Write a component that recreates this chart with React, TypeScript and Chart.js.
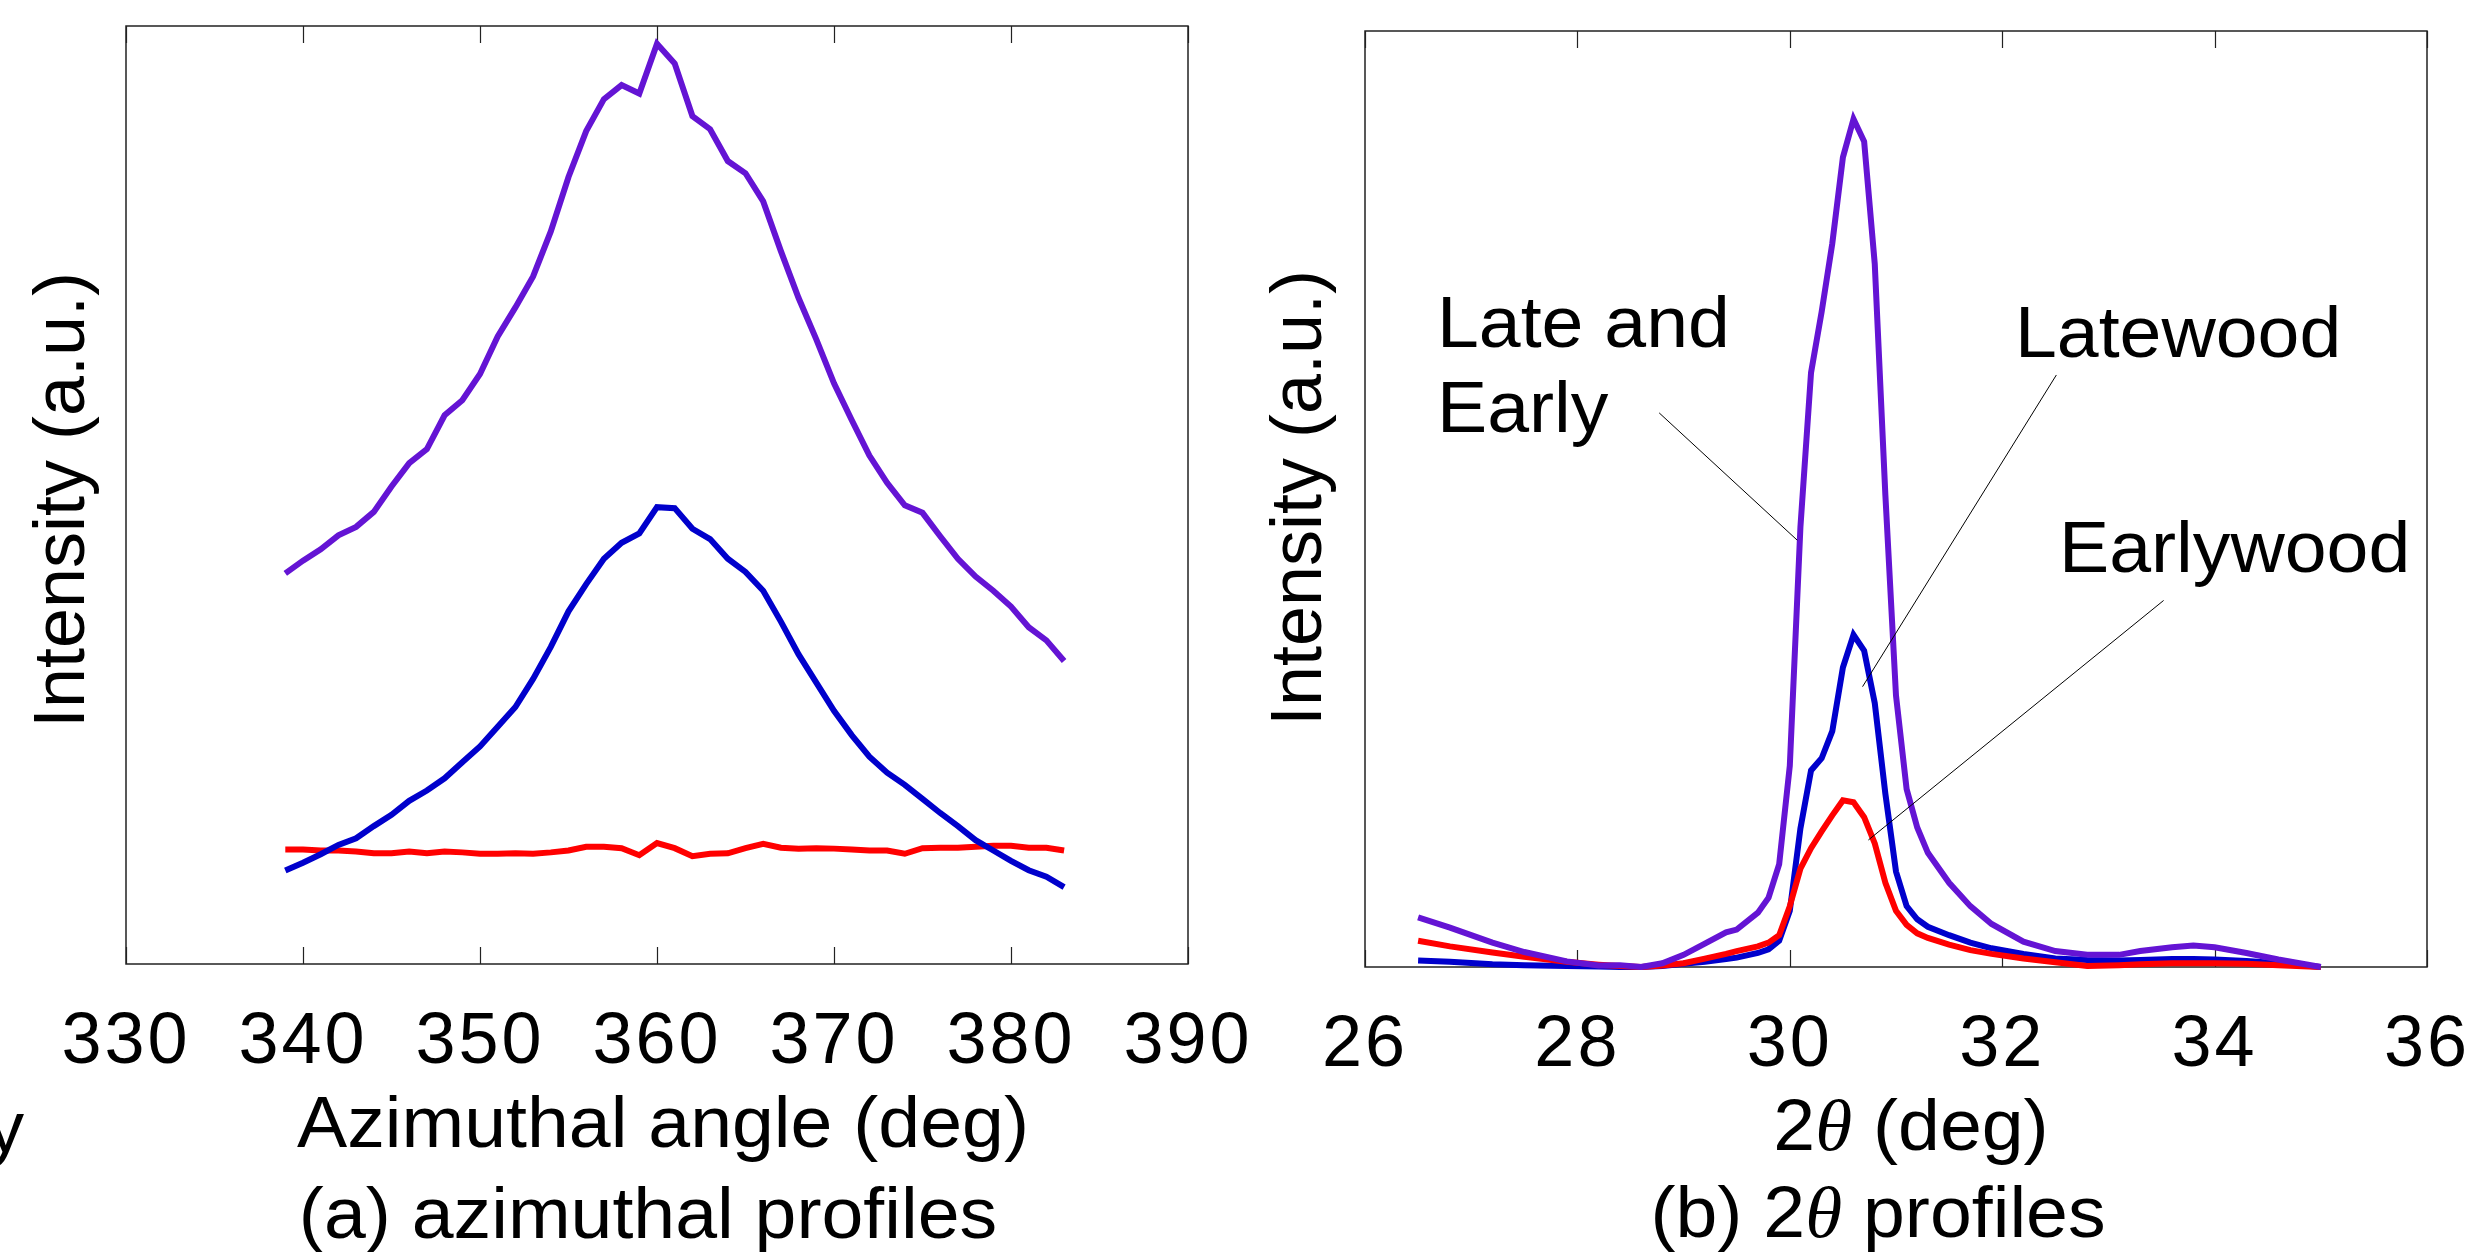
import React, { useEffect, useRef } from "react";
import { Chart, registerables } from "chart.js";

Chart.register(...registerables);

// ---------- (a) azimuthal profiles ----------
const azimuthAngles = [
  339, 340, 341, 342, 343, 344, 345, 346, 347, 348, 349, 350, 351, 352, 353,
  354, 355, 356, 357, 358, 359, 360, 361, 362, 363, 364, 365, 366, 367, 368,
  369, 370, 371, 372, 373, 374, 375, 376, 377, 378, 379, 380, 381, 382, 383,
];
const azLateEarly = [
  41.65, 43.0, 44.2, 45.7, 46.6, 48.2, 50.9, 53.4, 54.9, 58.5, 60.1, 62.9, 66.9, 70.0, 73.3,
  78.1, 83.9, 88.8, 92.2, 93.7, 92.8, 98.1, 96.0, 90.4, 89.0, 85.6, 84.3, 81.3, 76.0, 71.0,
  66.6, 61.9, 58.0, 54.2, 51.3, 48.9, 48.1, 45.6, 43.2, 41.3, 39.8, 38.1, 35.9, 34.5, 32.3,
];
const azLatewood = [
  9.97, 10.8, 11.7, 12.7, 13.4, 14.7, 15.9, 17.4, 18.5, 19.8, 21.5, 23.2, 25.3, 27.4, 30.4,
  33.8, 37.6, 40.5, 43.2, 44.9, 45.9, 48.7, 48.6, 46.4, 45.3, 43.2, 41.8, 39.8, 36.5, 33.0,
  30.0, 27.0, 24.4, 22.1, 20.4, 19.1, 17.6, 16.1, 14.7, 13.2, 12.1, 11.0, 10.0, 9.3, 8.2,
];
const azEarlywood = [
  12.2, 12.2, 12.1, 12.1, 12.0, 11.8, 11.8, 12.0, 11.8, 12.0, 11.9, 11.75, 11.75, 11.8, 11.75,
  11.9, 12.1, 12.5, 12.5, 12.35, 11.6, 12.9, 12.35, 11.5, 11.75, 11.8, 12.35, 12.8, 12.4, 12.3,
  12.35, 12.3, 12.2, 12.1, 12.1, 11.75, 12.35, 12.4, 12.4, 12.5, 12.6, 12.6, 12.4, 12.4, 12.1,
];
const azTicks = [330, 340, 350, 360, 370, 380, 390];

// ---------- (b) 2-theta profiles ----------
const twoTheta = [
  26.5, 26.8, 27.2, 27.5, 27.9, 28.2, 28.4, 28.6, 28.8, 29.0,
  29.2, 29.4, 29.5, 29.7, 29.8, 29.9, 30.0, 30.1, 30.2, 30.3,
  30.4, 30.5, 30.6, 30.7, 30.8, 30.9, 31.0, 31.1, 31.2, 31.3,
  31.5, 31.7, 31.9, 32.2, 32.5, 32.8, 33.1, 33.3, 33.6, 33.8,
  34.0, 34.3, 34.6, 35.0,
];
const ttLateEarly = [
  5.3, 4.2, 2.6, 1.6, 0.6, 0.15, 0.2, 0, 0.4, 1.3,
  2.5, 3.7, 4.0, 5.8, 7.4, 11.0, 21.5, 47, 63.5, 70,
  77.3, 86.5, 90.6, 88.2, 75.1, 50.4, 29.0, 19.0, 14.9, 12.2,
  9.0, 6.5, 4.6, 2.7, 1.7, 1.3, 1.3, 1.7, 2.1, 2.3,
  2.1, 1.5, 0.8, 0,
];
const ttLatewood = [
  0.7, 0.55, 0.3, 0.2, 0.1, 0.05, 0, 0, 0.1, 0.35,
  0.55, 0.85, 1.0, 1.5, 1.9, 2.8, 6.0, 14.8, 21.0, 22.3,
  25.2, 32.0, 35.5, 33.8, 28.2, 18.5, 10.2, 6.5, 5.1, 4.3,
  3.4, 2.6, 2.0, 1.4, 0.9, 0.75, 0.7, 0.75, 0.85, 0.85,
  0.8, 0.65, 0.4, 0,
];
const ttEarlywood = [
  2.8, 2.2, 1.55, 1.1, 0.55, 0.25, 0.1, 0, 0.15, 0.4,
  0.9, 1.4, 1.7, 2.2, 2.6, 3.4, 6.5, 10.5, 12.7, 14.5,
  16.2, 17.8, 17.6, 16.0, 13.2, 9.0, 6.0, 4.5, 3.6, 3.1,
  2.4, 1.8, 1.4, 0.9, 0.5, 0.1, 0.2, 0.3, 0.4, 0.4,
  0.4, 0.35, 0.2, 0,
];
const ttTicks = [26, 28, 30, 32, 34, 36];

// annotation labels (data coordinates of panel b)
const annotLabels = ["Late and", "Early", "Latewood", "Earlywood"];
const annotLabelX = [26.678, 26.678, 32.12, 32.535];
const annotLabelY = [66.24, 57.16, 65.17, 42.15];
const leaderFrom = [[28.77, 59.2], [32.51, 63.25], [33.52, 39.16]];
const leaderTo = [[30.07, 45.6], [30.685, 29.95], [30.74, 13.57]];

const W = 2466;
const H = 1252;
const PURPLE = "#6414D4";
const BLUE = "#0000CC";
const RED = "#FF0000";
const SANS = "72px 'Liberation Sans', Arial, Helvetica, sans-serif";
const THETA = "italic 72px 'Liberation Serif', 'Times New Roman', serif";
const STRETCH = 1.045;

type Seg = [string, string];
type TextItem = { segs: Seg[]; x: number; y: number; align: "left" | "center" | "right"; rotate?: boolean };

function drawSegs(ctx: CanvasRenderingContext2D, item: TextItem) {
  ctx.save();
  (ctx as any).letterSpacing = "0px";
  ctx.fillStyle = "#000";
  ctx.textBaseline = "alphabetic";
  ctx.textAlign = "left";
  const widths = item.segs.map(([t, f]) => {
    ctx.font = f;
    return ctx.measureText(t).width;
  });
  const total = widths.reduce((a, b) => a + b, 0);
  ctx.translate(item.x, item.y);
  if (item.rotate) {
    ctx.rotate(-Math.PI / 2);
  } else {
    ctx.scale(STRETCH, 1);
  }
  let cx = item.align === "center" ? -total / 2 : item.align === "right" ? -total : 0;
  item.segs.forEach(([t, f], i) => {
    ctx.font = f;
    ctx.fillText(t, cx, 0);
    cx += widths[i];
  });
  ctx.restore();
}

function makeFramePlugin(texts: TextItem[], annotate: boolean) {
  return {
    id: "frame",
    beforeDraw(chart: any) {
      (chart.ctx as any).letterSpacing = "3px";
    },
    beforeDatasetsDraw(chart: any) {
      const { ctx, chartArea } = chart;
      (ctx as any).letterSpacing = "0px";
      const xs = chart.scales.x;
      ctx.save();
      ctx.strokeStyle = "#222";
      ctx.lineWidth = 1.5;
      ctx.strokeRect(chartArea.left, chartArea.top, chartArea.right - chartArea.left, chartArea.bottom - chartArea.top);
      ctx.lineWidth = 1.2;
      ctx.beginPath();
      xs.ticks.forEach((t: any) => {
        const px = Math.round(xs.getPixelForValue(t.value)) + 0.5;
        ctx.moveTo(px, chartArea.top);
        ctx.lineTo(px, chartArea.top + 17);
        ctx.moveTo(px, chartArea.bottom);
        ctx.lineTo(px, chartArea.bottom - 17);
      });
      ctx.stroke();
      ctx.restore();
    },
    afterDatasetsDraw(chart: any) {
      const { ctx } = chart;
      const xs = chart.scales.x;
      const ys = chart.scales.y;
      texts.forEach((t) => drawSegs(ctx, t));
      if (annotate) {
        ctx.save();
        ctx.strokeStyle = "#000";
        ctx.lineWidth = 1;
        ctx.beginPath();
        leaderFrom.forEach((p, i) => {
          ctx.moveTo(xs.getPixelForValue(p[0]), ys.getPixelForValue(p[1]));
          ctx.lineTo(xs.getPixelForValue(leaderTo[i][0]), ys.getPixelForValue(leaderTo[i][1]));
        });
        ctx.stroke();
        ctx.restore();
        annotLabels.forEach((label, i) => {
          drawSegs(ctx, {
            segs: [[label, SANS]],
            x: xs.getPixelForValue(annotLabelX[i]),
            y: ys.getPixelForValue(annotLabelY[i]),
            align: "left",
          });
        });
      }
    },
  };
}

function lineDataset(label: string, xs: number[], ys: number[], color: string) {
  return {
    label,
    data: xs.map((x, i) => ({ x, y: ys[i] })),
    borderColor: color,
    backgroundColor: color,
    borderWidth: 6,
    pointRadius: 0,
    tension: 0,
    fill: false,
    clip: false as any,
  };
}

function buildConfig(opts: {
  datasets: any[];
  min: number;
  max: number;
  ticks: number[];
  padding: { left: number; right: number; top: number };
  axisHeight: number;
  texts: TextItem[];
  annotate: boolean;
}) {
  return {
    type: "line" as const,
    data: { datasets: opts.datasets },
    options: {
      responsive: false,
      animation: false as const,
      devicePixelRatio: 1,
      layout: { padding: { left: opts.padding.left, right: opts.padding.right, top: opts.padding.top, bottom: 0 } },
      plugins: { legend: { display: false }, tooltip: { enabled: false }, title: { display: false } },
      scales: {
        x: {
          type: "linear" as const,
          min: opts.min,
          max: opts.max,
          grid: { display: false, drawTicks: false },
          border: { display: false },
          afterBuildTicks: (s: any) => {
            s.ticks = opts.ticks.map((v) => ({ value: v }));
          },
          afterFit: (s: any) => {
            s.height = opts.axisHeight;
            s.paddingLeft = 0;
            s.paddingRight = 0;
          },
          ticks: {
            autoSkip: false,
            maxRotation: 0,
            minRotation: 0,
            padding: 36,
            color: "#000",
            font: { family: "'Liberation Sans', Arial, Helvetica, sans-serif", size: 72 },
            callback: (v: any) => String(v),
          },
        },
        y: { type: "linear" as const, min: 0, max: 100, display: false },
      },
    },
    plugins: [makeFramePlugin(opts.texts, opts.annotate)],
  };
}

export default function App() {
  const leftRef = useRef<HTMLCanvasElement>(null);
  const rightRef = useRef<HTMLCanvasElement>(null);

  useEffect(() => {
    const leftTexts: TextItem[] = [
      { segs: [["Intensity (a.u.)", SANS]], x: 84, y: 500, align: "center", rotate: true },
      { segs: [["Azimuthal angle (deg)", SANS]], x: 663, y: 1147, align: "center" },
      { segs: [["(a) azimuthal profiles", SANS]], x: 648, y: 1238, align: "center" },
      { segs: [["y", SANS]], x: 24, y: 1152, align: "right" },
    ];
    const rightTexts: TextItem[] = [
      { segs: [["Intensity (a.u.)", SANS]], x: 1321, y: 498, align: "center", rotate: true },
      { segs: [["2", SANS], ["θ", THETA], [" (deg)", SANS]], x: 1911, y: 1150, align: "center" },
      { segs: [["(b) 2", SANS], ["θ", THETA], [" profiles", SANS]], x: 1878, y: 1237, align: "center" },
    ];

    const left = new Chart(
      leftRef.current as HTMLCanvasElement,
      buildConfig({
        datasets: [
          lineDataset("Late and Early", azimuthAngles, azLateEarly, PURPLE),
          lineDataset("Latewood", azimuthAngles, azLatewood, BLUE),
          lineDataset("Earlywood", azimuthAngles, azEarlywood, RED),
        ],
        min: 330,
        max: 390,
        ticks: azTicks,
        padding: { left: 126, right: W - 1188, top: 26 },
        axisHeight: H - 964,
        texts: leftTexts,
        annotate: false,
      }) as any
    );
    const right = new Chart(
      rightRef.current as HTMLCanvasElement,
      buildConfig({
        datasets: [
          lineDataset("Late and Early", twoTheta, ttLateEarly, PURPLE),
          lineDataset("Earlywood", twoTheta, ttEarlywood, RED),
          lineDataset("Latewood", twoTheta, ttLatewood, BLUE),
        ],
        min: 26,
        max: 36,
        ticks: ttTicks,
        padding: { left: 1365, right: W - 2427, top: 31 },
        axisHeight: H - 967,
        texts: rightTexts,
        annotate: true,
      }) as any
    );
    return () => {
      left.destroy();
      right.destroy();
    };
  }, []);

  const canvasStyle: React.CSSProperties = { position: "absolute", left: 0, top: 0, width: W, height: H };
  return (
    <div style={{ position: "fixed", left: 0, top: 0, width: W, height: H, background: "#fff", overflow: "hidden" }}>
      <canvas ref={leftRef} width={W} height={H} style={canvasStyle} />
      <canvas ref={rightRef} width={W} height={H} style={canvasStyle} />
    </div>
  );
}
